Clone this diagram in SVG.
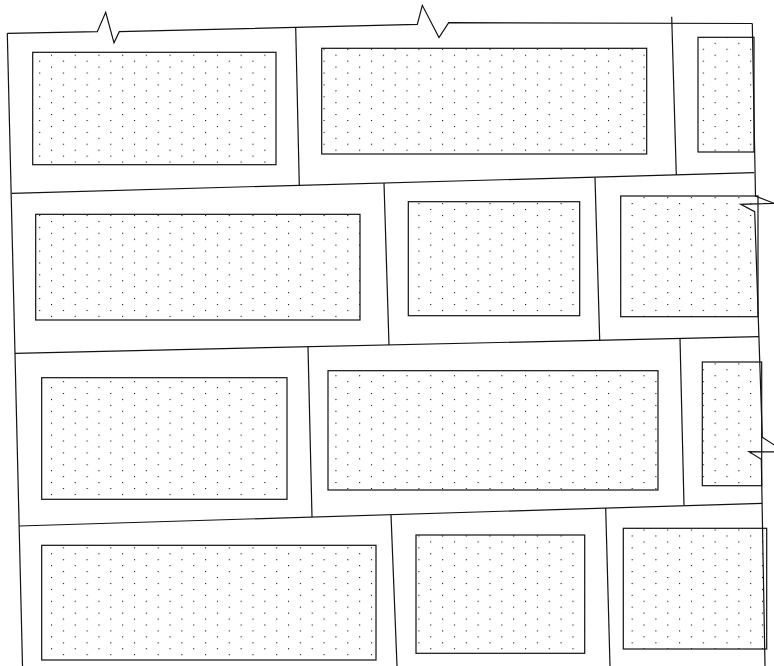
<svg xmlns="http://www.w3.org/2000/svg" width="774" height="666" viewBox="0 0 774 666">
<style>
.ln{fill:none;stroke:#111;stroke-width:1.2;stroke-linejoin:miter}
.br{fill:url(#dots);stroke:#111;stroke-width:1.2}
.dt{fill:#111}
</style>
<defs>
<pattern id="dots" patternUnits="userSpaceOnUse" x="51" y="54.7" width="23.7" height="11.87">
<rect class="dt" x="0" y="0" width="1.1" height="1.1"/>
<rect class="dt" x="11.85" y="5.935" width="1.1" height="1.1"/>
</pattern>
</defs>
<rect width="774" height="666" fill="#fff"/>
<g id="bricks">
<g id="b1"><rect class="br" x="32.7" y="52.3" width="243.3" height="112.4"/></g>
<g id="b2"><rect class="br" x="321.7" y="48.3" width="325" height="105.7"/></g>
<g id="b3"><rect class="br" x="698" y="37.3" width="56" height="114.7"/></g>
<g id="b4"><rect class="br" x="35.7" y="214.3" width="324.3" height="105.7"/></g>
<g id="b5"><rect class="br" x="408.3" y="201.7" width="171.4" height="114"/></g>
<g id="b6"><rect class="br" x="620.7" y="196" width="137.3" height="120.7"/></g>
<g id="b7"><rect class="br" x="41.7" y="377.7" width="245.3" height="121.6"/></g>
<g id="b8"><rect class="br" x="328" y="370.7" width="330" height="119.3"/></g>
<g id="b9"><rect class="br" x="702.3" y="362" width="59.4" height="123.7"/></g>
<g id="b10"><rect class="br" x="41.7" y="545.3" width="334.3" height="114.7"/></g>
<g id="b11"><rect class="br" x="416" y="535" width="168.7" height="118.3"/></g>
<g id="b12"><rect class="br" x="623.3" y="528.3" width="143.4" height="120.7"/></g>
</g>
<g id="connectors">
<polyline class="ln" points="7.3,33.3 97.3,31.7 105.7,12.3 114,42.8 119.3,31.7 417.3,24.3 422.3,5.3 439,37.5 448.7,22.7 752.3,23.5"/>
<line class="ln" x1="7.3" y1="33.3" x2="22.5" y2="666"/>
<polyline class="ln" points="752.3,23.5 755.5,196 774,203.3 740.7,204.3 754.7,211.7 762.3,437.3 785,452 749,451.7 761.3,459.3 765,666"/>
<line class="ln" x1="11.7" y1="193.3" x2="754.3" y2="172.7"/>
<line class="ln" x1="15" y1="353.3" x2="759" y2="336.7"/>
<line class="ln" x1="19" y1="526" x2="762.3" y2="503.3"/>
<line class="ln" x1="295.7" y1="27.6" x2="299.3" y2="185.3"/>
<line class="ln" x1="671.7" y1="16.7" x2="676.3" y2="175"/>
<line class="ln" x1="384" y1="183" x2="389" y2="345"/>
<line class="ln" x1="595" y1="177.5" x2="599.7" y2="340.3"/>
<line class="ln" x1="308" y1="346.8" x2="312" y2="517"/>
<line class="ln" x1="680" y1="338.4" x2="684" y2="505.5"/>
<line class="ln" x1="391" y1="514.7" x2="397" y2="666"/>
<line class="ln" x1="605.7" y1="508.1" x2="610" y2="666"/>
</g>
</svg>
